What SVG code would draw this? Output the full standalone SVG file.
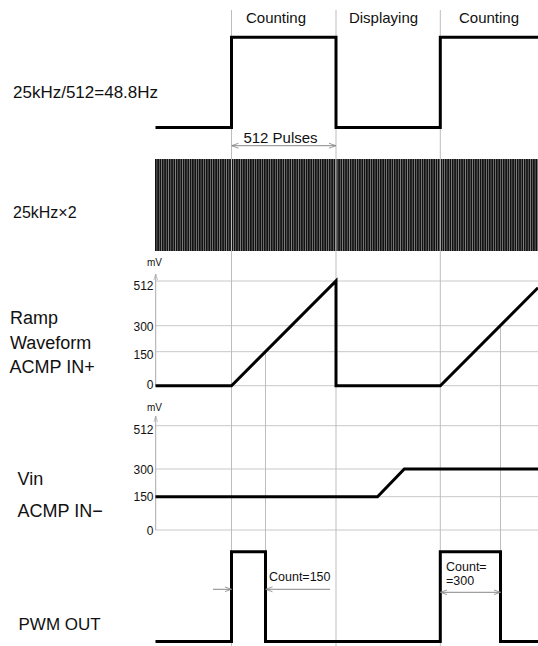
<svg xmlns="http://www.w3.org/2000/svg" width="538" height="646" viewBox="0 0 538 646">
<style>
.t{font-family:"Liberation Sans",Arial,sans-serif;fill:#111}
.grid{stroke:#c8c8c8;stroke-width:1;fill:none}
.vgrid{stroke:#bdbdbd;stroke-width:1;fill:none}
.sig{stroke:#000;stroke-width:3;fill:none;stroke-linejoin:miter}
.dim{stroke:#888;stroke-width:1;fill:none}
.ax{stroke:#aaa;stroke-width:1;fill:none}
.lbl{font-size:17px}
.big{font-size:18px}
.hdr{font-size:15px}
.tick{font-size:12px;text-anchor:end}
.mv{font-size:10px}
.cnt{font-size:12.5px}
</style>
<defs>
<pattern id="pulses" patternUnits="userSpaceOnUse" x="155" y="0" width="2.32" height="10">
<rect x="0" y="0" width="2.32" height="10" fill="#111"/>
<rect x="1.95" y="0" width="0.37" height="10" fill="#fff"/>
</pattern>
<marker id="oa" viewBox="0 0 10 10" refX="10" refY="5" markerWidth="7" markerHeight="7" markerUnits="userSpaceOnUse" orient="auto-start-reverse">
<path d="M0,1.5 L10,5 L0,8.5" fill="none" stroke="#888" stroke-width="1.2"/>
</marker>
<marker id="ax" viewBox="0 0 10 10" refX="10" refY="5" markerWidth="6" markerHeight="6" markerUnits="userSpaceOnUse" orient="auto">
<path d="M0,2 L10,5 L0,8" fill="none" stroke="#aaa" stroke-width="1.2"/>
</marker>
</defs>
<rect width="538" height="646" fill="#fff"/>

<g id="grid">
<line class="grid" x1="155.5" y1="281" x2="538" y2="281"/>
<line class="grid" x1="155.5" y1="325.7" x2="538" y2="325.7"/>
<line class="grid" x1="155.5" y1="351.7" x2="538" y2="351.7"/>
<line class="grid" x1="155.5" y1="385.7" x2="538" y2="385.7"/>
<line class="grid" x1="155.5" y1="425.7" x2="538" y2="425.7"/>
<line class="grid" x1="155.5" y1="469" x2="538" y2="469"/>
<line class="grid" x1="155.5" y1="496.7" x2="538" y2="496.7"/>
<line class="grid" x1="155.5" y1="530" x2="538" y2="530"/>
</g>

<g id="pulse-train">
<rect x="155" y="159" width="383" height="92" fill="url(#pulses)"/>
</g>

<g id="vgrid">
<line class="vgrid" x1="231.5" y1="10" x2="231.5" y2="646"/>
<line class="vgrid" x1="336" y1="10" x2="336" y2="646"/>
<line class="vgrid" x1="440.3" y1="10" x2="440.3" y2="646"/>
<line class="vgrid" x1="265.5" y1="351.7" x2="265.5" y2="551.7"/>
<line class="vgrid" x1="500.5" y1="325.7" x2="500.5" y2="551.7"/>
</g>

<g id="axes">
<line class="ax" x1="155.7" y1="385.7" x2="155.7" y2="274" marker-end="url(#ax)"/>
<text class="t mv" x="147" y="266">mV</text>
<line class="ax" x1="155.7" y1="530" x2="155.7" y2="416" marker-end="url(#ax)"/>
<text class="t mv" x="147" y="411">mV</text>
<text class="t tick" x="153.5" y="289.5">512</text>
<text class="t tick" x="153.5" y="331">300</text>
<text class="t tick" x="153.5" y="358.5">150</text>
<text class="t tick" x="153.5" y="389">0</text>
<text class="t tick" x="153.5" y="434">512</text>
<text class="t tick" x="153.5" y="473.5">300</text>
<text class="t tick" x="153.5" y="501">150</text>
<text class="t tick" x="153.5" y="535">0</text>
</g>

<g id="headers">
<text class="t hdr" x="276" y="23" text-anchor="middle">Counting</text>
<text class="t hdr" x="383.5" y="23" text-anchor="middle">Displaying</text>
<text class="t hdr" x="489" y="23" text-anchor="middle">Counting</text>
</g>

<g id="clock-48hz">
<text class="t lbl" x="13" y="98">25kHz/512=48.8Hz</text>
<polyline class="sig" points="155.5,127.5 231.5,127.5 231.5,37.3 336,37.3 336,127.5 440.3,127.5 440.3,37.3 538,37.3"/>
</g>

<g id="clock-50khz">
<text class="t" font-size="16" x="13" y="218">25kHz×2</text>
</g>

<g id="ramp">
<text class="t big" x="10" y="324">Ramp</text>
<text class="t big" x="10" y="349">Waveform</text>
<text class="t big" x="9.5" y="373">ACMP IN+</text>
<polyline class="sig" points="155.5,385.7 231.5,385.7 336,281 336,385.7 440.3,385.7 538,287.7"/>
</g>

<g id="vin">
<text class="t big" x="17.5" y="485">Vin</text>
<text class="t big" x="17.5" y="517">ACMP IN−</text>
<polyline class="sig" points="155.5,496.7 377.5,496.7 404.3,469 538,469"/>
</g>

<g id="pwm">
<text class="t lbl" x="18.5" y="629.5">PWM OUT</text>
<polyline class="sig" points="155.5,641.5 231.5,641.5 231.5,551.7 265.5,551.7 265.5,641.5 440.3,641.5 440.3,551.7 500.5,551.7 500.5,641.5 538,641.5"/>
</g>

<g id="dimensions">
<line class="dim" x1="231.5" y1="145.7" x2="336" y2="145.7" marker-start="url(#oa)" marker-end="url(#oa)"/>
<text class="t hdr" x="280.5" y="143" text-anchor="middle">512 Pulses</text>
<line class="dim" x1="213" y1="589.3" x2="231.5" y2="589.3" marker-end="url(#oa)"/>
<line class="dim" x1="330" y1="589.3" x2="265.5" y2="589.3" marker-end="url(#oa)"/>
<text class="t cnt" x="269" y="581">Count=150</text>
<line class="dim" x1="440.3" y1="592.3" x2="500.5" y2="592.3" marker-start="url(#oa)" marker-end="url(#oa)"/>
<text class="t cnt" x="446" y="570.7">Count=</text>
<text class="t cnt" x="446" y="585">=300</text>
</g>
</svg>
